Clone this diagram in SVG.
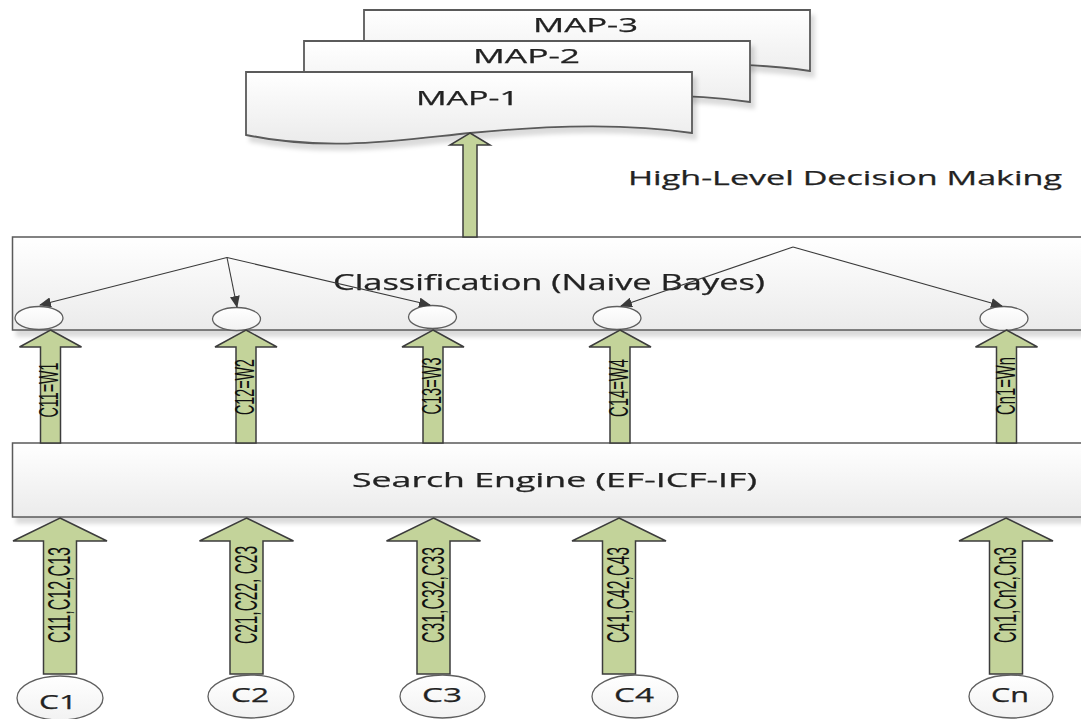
<svg xmlns="http://www.w3.org/2000/svg" width="1081" height="719" viewBox="0 0 1081 719">
<defs>
<linearGradient id="gBox" x1="0" y1="0" x2="0" y2="1">
<stop offset="0" stop-color="#ffffff"/>
<stop offset="1" stop-color="#ebebeb"/>
</linearGradient>
<linearGradient id="gCirc" x1="0" y1="0" x2="0" y2="1">
<stop offset="0" stop-color="#ffffff"/>
<stop offset="1" stop-color="#f2f2f2"/>
</linearGradient>
<filter id="sh" x="-5%" y="-20%" width="115%" height="150%">
<feDropShadow dx="4" dy="6" stdDeviation="2" flood-color="#000" flood-opacity="0.14"/>
</filter>
<marker id="ah" viewBox="0 0 12 10" refX="11" refY="5" markerWidth="12" markerHeight="10" markerUnits="userSpaceOnUse" orient="auto">
<path d="M0,0 L12,5 L0,10 Z" fill="#3a3a3a"/>
</marker>
<path id="doc" d="M246,72 H692 V133 C620,122 540,126 470,133 C400,140 330,152 246,135 Z"/>
</defs>
<style>
.box{fill:url(#gBox);stroke:#5a5a5a;stroke-width:1.5}
.doc{fill:url(#gBox);stroke:#5a5a5a;stroke-width:1.8}
.sm{fill:url(#gCirc);stroke:#5f5f5f;stroke-width:1.3}
.arr{fill:#c3d39a;stroke:#3c3c3c;stroke-width:1.5;stroke-linejoin:miter}
.lbl{font-family:"Open Sans","Noto Sans","DejaVu Sans",sans-serif;fill:#222;stroke:#222;stroke-width:0.25}
.vl{font-family:"Liberation Sans Narrow","Liberation Sans",sans-serif;fill:#111;text-anchor:middle}
.ln{stroke:#3a3a3a;stroke-width:1.1;fill:none;marker-end:url(#ah)}
</style>

<g id="map3" filter="url(#sh)">
<use href="#doc" class="doc" transform="translate(118,-62)"/>
<text class="lbl" x="585.5" y="32" font-size="20" text-anchor="middle" textLength="105" lengthAdjust="spacingAndGlyphs">MAP-3</text>
</g>
<g id="map2" filter="url(#sh)">
<use href="#doc" class="doc" transform="translate(58,-31)"/>
<text class="lbl" x="526.5" y="63" font-size="20" text-anchor="middle" textLength="107" lengthAdjust="spacingAndGlyphs">MAP-2</text>
</g>
<g id="map1" filter="url(#sh)">
<use href="#doc" class="doc"/>
<text class="lbl" x="467.5" y="105" font-size="20" text-anchor="middle" textLength="103" lengthAdjust="spacingAndGlyphs">MAP-1</text>
</g>

<g id="high-level-label">
<text class="lbl" x="845" y="185" font-size="20" text-anchor="middle" textLength="434" lengthAdjust="spacingAndGlyphs">High-Level Decision Making</text>
</g>

<g id="classification" filter="url(#sh)">
<rect class="box" x="12.5" y="237" width="1090" height="93"/>
<text class="lbl" x="549" y="290" font-size="21" text-anchor="middle" textLength="432" lengthAdjust="spacingAndGlyphs">Classification (Naive Bayes)</text>
</g>

<g id="search-engine" filter="url(#sh)">
<rect class="box" x="12.5" y="443" width="1090" height="74"/>
<text class="lbl" x="554.5" y="487" font-size="20" text-anchor="middle" textLength="405" lengthAdjust="spacingAndGlyphs">Search Engine (EF-ICF-IF)</text>
</g>

<g id="class-nodes">
<ellipse id="n1" class="sm" cx="39" cy="318" rx="24" ry="11.5"/>
<ellipse id="n2" class="sm" cx="236.5" cy="319" rx="24" ry="11.5"/>
<ellipse id="n3" class="sm" cx="432.5" cy="317" rx="24" ry="11.5"/>
<ellipse id="n4" class="sm" cx="617" cy="318" rx="24" ry="11.5"/>
<ellipse id="n5" class="sm" cx="1004" cy="318.5" rx="24" ry="12"/>
</g>

<g id="connectors">
<line class="ln" x1="227" y1="257.5" x2="40" y2="305"/>
<line class="ln" x1="227" y1="257.5" x2="237" y2="307"/>
<line class="ln" x1="227" y1="257.5" x2="430" y2="305"/>
<line class="ln" x1="793" y1="247" x2="621" y2="306"/>
<line class="ln" x1="793" y1="247" x2="1002" y2="306"/>

<path class="arr" d="M470,133 L490,145 L477,145 L477,237 L463,237 L463,145 L450,145 Z"/>

<path class="arr" d="M50.5,330 L81.5,347 L60.5,347 L60.5,443 L40.5,443 L40.5,347 L19.5,347 Z"/>
<path class="arr" d="M246,330 L277,347 L256,347 L256,443 L236,443 L236,347 L215,347 Z"/>
<path class="arr" d="M433,330 L464,347 L443,347 L443,443 L423,443 L423,347 L402,347 Z"/>
<path class="arr" d="M620,330 L651,347 L630,347 L630,443 L610,443 L610,347 L589,347 Z"/>
<path class="arr" d="M1006.5,330 L1037.5,347 L1016.5,347 L1016.5,443 L996.5,443 L996.5,347 L975.5,347 Z"/>

<path class="arr" d="M60,518 L107,541 L76.5,541 L76.5,674 L43.5,674 L43.5,541 L13,541 Z"/>
<path class="arr" d="M246.5,518 L293.5,541 L263,541 L263,674 L230,674 L230,541 L199.5,541 Z"/>
<path class="arr" d="M433.5,518 L480.5,541 L450,541 L450,674 L417,674 L417,541 L386.5,541 Z"/>
<path class="arr" d="M619,518 L666,541 L635.5,541 L635.5,674 L602.5,674 L602.5,541 L572,541 Z"/>
<path class="arr" d="M1006,518 L1053,541 L1022.5,541 L1022.5,674 L989.5,674 L989.5,541 L959,541 Z"/>

<text class="vl" font-size="20" transform="translate(49,390) scale(1.35,1) rotate(-90)" y="7" textLength="55" lengthAdjust="spacingAndGlyphs">C11=W1</text>
<text class="vl" font-size="20" transform="translate(245,387) scale(1.35,1) rotate(-90)" y="7" textLength="56" lengthAdjust="spacingAndGlyphs">C12=W2</text>
<text class="vl" font-size="20" transform="translate(432,386) scale(1.35,1) rotate(-90)" y="7" textLength="57" lengthAdjust="spacingAndGlyphs">C13=W3</text>
<text class="vl" font-size="20" transform="translate(619,388) scale(1.35,1) rotate(-90)" y="7" textLength="58" lengthAdjust="spacingAndGlyphs">C14=W4</text>
<text class="vl" font-size="20" transform="translate(1005.5,386) scale(1.35,1) rotate(-90)" y="7" textLength="58" lengthAdjust="spacingAndGlyphs">Cn1=Wn</text>

<text class="vl" font-size="23" transform="translate(59,595) scale(1.4,1) rotate(-90)" y="8" textLength="96" lengthAdjust="spacingAndGlyphs">C11,C12,C13</text>
<text class="vl" font-size="23" transform="translate(245.5,595) scale(1.4,1) rotate(-90)" y="8" textLength="98" lengthAdjust="spacingAndGlyphs">C21,C22, C23</text>
<text class="vl" font-size="23" transform="translate(432.5,595) scale(1.4,1) rotate(-90)" y="8" textLength="96" lengthAdjust="spacingAndGlyphs">C31,C32,C33</text>
<text class="vl" font-size="23" transform="translate(618,595) scale(1.4,1) rotate(-90)" y="8" textLength="96" lengthAdjust="spacingAndGlyphs">C41,C42,C43</text>
<text class="vl" font-size="23" transform="translate(1005,595) scale(1.4,1) rotate(-90)" y="8" textLength="96" lengthAdjust="spacingAndGlyphs">Cn1,Cn2,Cn3</text>
</g>

<g id="c1">
<ellipse class="sm" cx="60" cy="698" rx="43" ry="22"/>
<text class="lbl" x="58" y="709" font-size="20" text-anchor="middle" textLength="38" lengthAdjust="spacingAndGlyphs">C1</text>
</g>
<g id="c2">
<ellipse class="sm" cx="251" cy="696.5" rx="43" ry="21.5"/>
<text class="lbl" x="250" y="702" font-size="20" text-anchor="middle" textLength="38" lengthAdjust="spacingAndGlyphs">C2</text>
</g>
<g id="c3">
<ellipse class="sm" cx="442.5" cy="696.5" rx="42.5" ry="21.5"/>
<text class="lbl" x="442" y="702" font-size="20" text-anchor="middle" textLength="40" lengthAdjust="spacingAndGlyphs">C3</text>
</g>
<g id="c4">
<ellipse class="sm" cx="635" cy="696.5" rx="43" ry="21.5"/>
<text class="lbl" x="634" y="702" font-size="20" text-anchor="middle" textLength="40" lengthAdjust="spacingAndGlyphs">C4</text>
</g>
<g id="cn">
<ellipse class="sm" cx="1011" cy="696.5" rx="42" ry="21.5"/>
<text class="lbl" x="1010" y="702" font-size="20" text-anchor="middle" textLength="38" lengthAdjust="spacingAndGlyphs">Cn</text>
</g>
</svg>
